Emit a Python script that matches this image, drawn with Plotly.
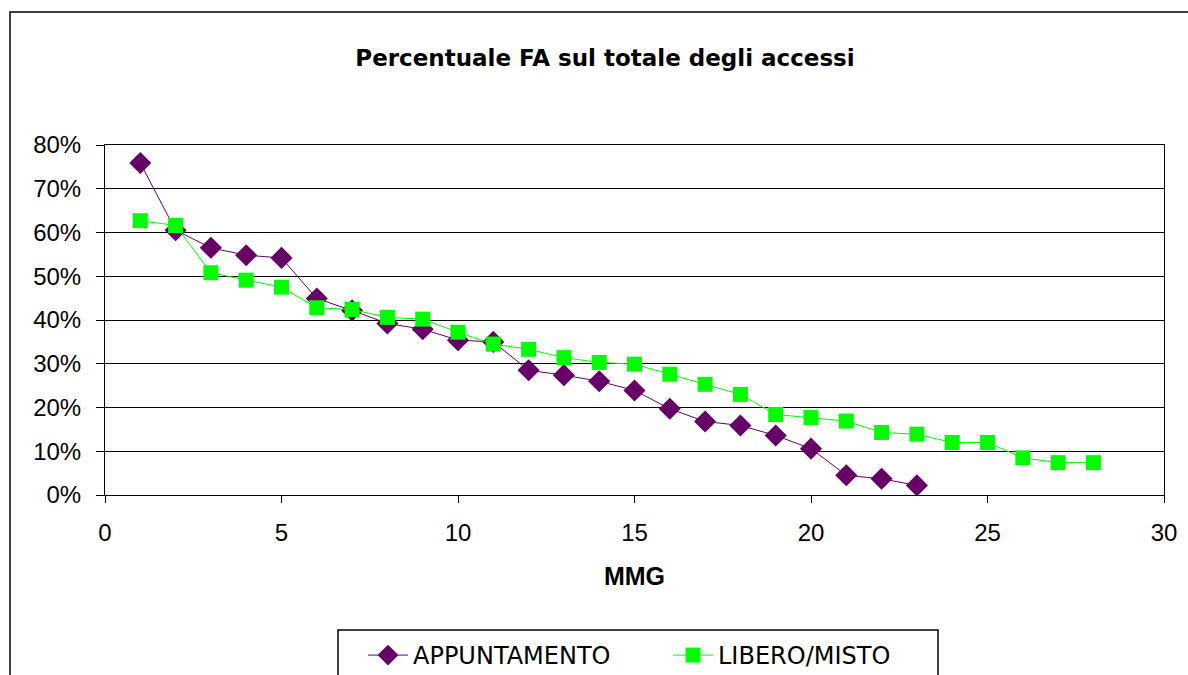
import plotly.graph_objects as go

# MMG index (x axis)
mmg_app = list(range(1, 24))
mmg_lib = list(range(1, 29))

# Percentage of FA on total accesses, per MMG
appuntamento = [75.9, 60.5, 56.5, 54.8, 54.2, 44.9, 42.2, 39.2, 37.9, 35.4,
                35.0, 28.5, 27.4, 26.0, 23.9, 19.7, 16.8, 15.9, 13.6, 10.6,
                4.5, 3.7, 2.2]
libero_misto = [62.7, 61.6, 50.8, 49.1, 47.5, 42.8, 42.4, 40.6, 40.2, 37.2,
                34.5, 33.3, 31.4, 30.3, 29.9, 27.6, 25.3, 23.0, 18.4, 17.7,
                16.9, 14.3, 13.9, 12.0, 12.0, 8.5, 7.4, 7.4]

y_ticks = [0, 10, 20, 30, 40, 50, 60, 70, 80]
y_tick_labels = [f"{v}%" for v in y_ticks]
x_ticks = [0, 5, 10, 15, 20, 25, 30]

W, H = 1188, 675
L, R, T, B = 105, 24, 145, 180
pw, ph = W - L - R, H - T - B


def px_x(p):
    return (p - L) / pw


def px_y(p):
    return (H - B - p) / ph


fig = go.Figure()

fig.add_trace(go.Scatter(
    x=mmg_app, y=appuntamento, name="APPUNTAMENTO", mode="lines+markers",
    line=dict(color="#660066", width=1),
    marker=dict(symbol="diamond", size=17, color="#660066"),
))
fig.add_trace(go.Scatter(
    x=mmg_lib, y=libero_misto, name="LIBERO/MISTO", mode="lines+markers",
    line=dict(color="#00FF00", width=1),
    marker=dict(symbol="square", size=15, color="#00FF00"),
))

# outer chart frame and legend frame
fig.add_shape(type="rect", xref="paper", yref="paper",
              x0=px_x(10), x1=px_x(1200), y0=px_y(700), y1=px_y(12),
              line=dict(color="black", width=1.5), layer="below")
fig.add_shape(type="rect", xref="paper", yref="paper",
              x0=px_x(338), x1=px_x(938), y0=px_y(700), y1=px_y(630),
              line=dict(color="black", width=1.5), fillcolor="white", layer="below")

tick_font = dict(family="Liberation Sans, Arial", size=24, color="black")

fig.update_layout(
    width=W, height=H,
    margin=dict(l=L, r=R, t=T, b=B, autoexpand=False),
    paper_bgcolor="white", plot_bgcolor="white",
    title=dict(text="<b>Percentuale FA sul totale degli accessi</b>",
               x=605 / W, xanchor="center", y=1 - 58 / H, yanchor="middle",
               font=dict(family="DejaVu Sans", size=23, color="black")),
    xaxis=dict(range=[0, 30], tickvals=x_ticks, showgrid=False,
               showline=True, linecolor="black", linewidth=1, mirror=True,
               ticks="outside", ticklen=7, tickcolor="black", zeroline=False,
               tickfont=tick_font, ticklabelstandoff=9,
               title=dict(text="<b>MMG</b>", standoff=22,
                          font=dict(family="Liberation Sans, Arial", size=25, color="black"))),
    yaxis=dict(range=[0, 80], tickvals=y_ticks, ticktext=y_tick_labels,
               showgrid=True, gridcolor="black", gridwidth=1,
               showline=True, linecolor="black", linewidth=1, mirror=True,
               ticks="outside", ticklen=8, tickcolor="black", zeroline=False,
               tickfont=tick_font, ticklabelstandoff=10),
    legend=dict(orientation="h", x=px_x(363), xanchor="left",
                y=px_y(633), yanchor="top", bgcolor="rgba(0,0,0,0)",
                font=dict(family="DejaVu Sans", size=24, color="black"),
                entrywidth=250, entrywidthmode="pixels",
                itemwidth=40, tracegroupgap=0),
    showlegend=True,
)

fig.write_html("out.html")
